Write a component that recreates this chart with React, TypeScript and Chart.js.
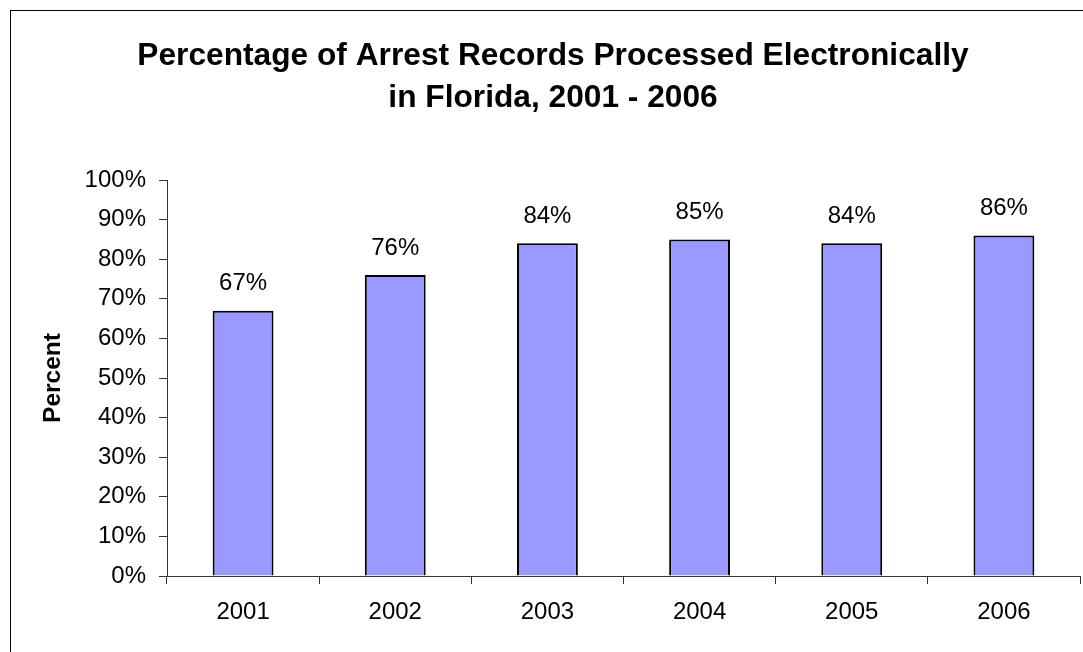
import React, { useEffect, useRef } from "react";
import { Chart, registerables } from "chart.js";

Chart.register(...registerables);

const categories = ["2001", "2002", "2003", "2004", "2005", "2006"];
const percentValues = [67, 76, 84, 85, 84, 86];
const yTickMin = 0;
const yTickMax = 100;
const yTickStep = 10;
const titleLines = [
  "Percentage of Arrest Records Processed Electronically",
  "in Florida, 2001 - 2006",
];
const yAxisTitle = "Percent";

const FONT = "'Liberation Sans', Arial, sans-serif";

const dataLabelPlugin = {
  id: "dataLabels",
  afterDatasetsDraw(chart: any) {
    const ctx = chart.ctx;
    const meta = chart.getDatasetMeta(0);
    const values = chart.data.datasets[0].data as number[];
    ctx.save();
    ctx.font = `24px ${FONT}`;
    ctx.fillStyle = "#000";
    ctx.textAlign = "center";
    ctx.textBaseline = "middle";
    meta.data.forEach((bar: any, i: number) => {
      ctx.fillText(`${values[i]}%`, bar.x, bar.y - 27);
    });
    ctx.restore();
  },
};

export default function App() {
  const canvasRef = useRef<HTMLCanvasElement | null>(null);

  useEffect(() => {
    if (!canvasRef.current) return;
    const chart = new Chart(canvasRef.current, {
      type: "bar",
      data: {
        labels: categories,
        datasets: [
          {
            data: percentValues,
            backgroundColor: "#9999FF",
            borderColor: "#000000",
            borderWidth: 2,
            categoryPercentage: 1,
            barPercentage: 0.4,
          },
        ],
      },
      options: {
        responsive: false,
        animation: false,
        layout: { padding: { left: 26, right: 3, top: 10, bottom: 0 } },
        plugins: {
          legend: { display: false },
          tooltip: { enabled: false },
          title: {
            display: true,
            text: titleLines,
            color: "#000",
            font: { family: FONT, size: 31.7, weight: "bold", lineHeight: 42 / 31.7 },
            padding: { top: 25, bottom: 61 },
          },
        },
        scales: {
          x: {
            afterFit: (s: any) => {
              s.height = 76;
            },
            grid: {
              drawOnChartArea: false,
              tickLength: 8,
              color: "#333",
            },
            border: { color: "#333", width: 1 },
            ticks: {
              color: "#000",
              font: { family: FONT, size: 24 },
              padding: 14,
            },
          },
          y: {
            min: yTickMin,
            max: yTickMax,
            afterFit: (s: any) => {
              s.width = 141;
            },
            grid: {
              drawOnChartArea: false,
              tickLength: 8,
              color: "#333",
            },
            border: { color: "#333", width: 1 },
            ticks: {
              stepSize: yTickStep,
              color: "#000",
              font: { family: FONT, size: 24 },
              padding: 13,
              callback: (v: any) => `${v}%`,
            },
            title: {
              display: true,
              text: yAxisTitle,
              color: "#000",
              font: { family: FONT, size: 24.5, weight: "bold" },
              padding: { top: 13, bottom: 0 },
            },
          },
        },
      },
      plugins: [dataLabelPlugin],
    });
    return () => chart.destroy();
  }, []);

  return (
    <div
      style={{
        position: "fixed",
        left: 0,
        top: 0,
        width: 1083,
        height: 652,
        overflow: "hidden",
        background: "#fff",
      }}
    >
      <div
        style={{
          position: "absolute",
          left: 10,
          top: 10,
          width: 1200,
          height: 800,
          border: "1px solid #000",
        }}
      />
      <canvas
        ref={canvasRef}
        width={1083}
        height={652}
        style={{ position: "absolute", left: 0, top: 0, display: "block" }}
      />
    </div>
  );
}
